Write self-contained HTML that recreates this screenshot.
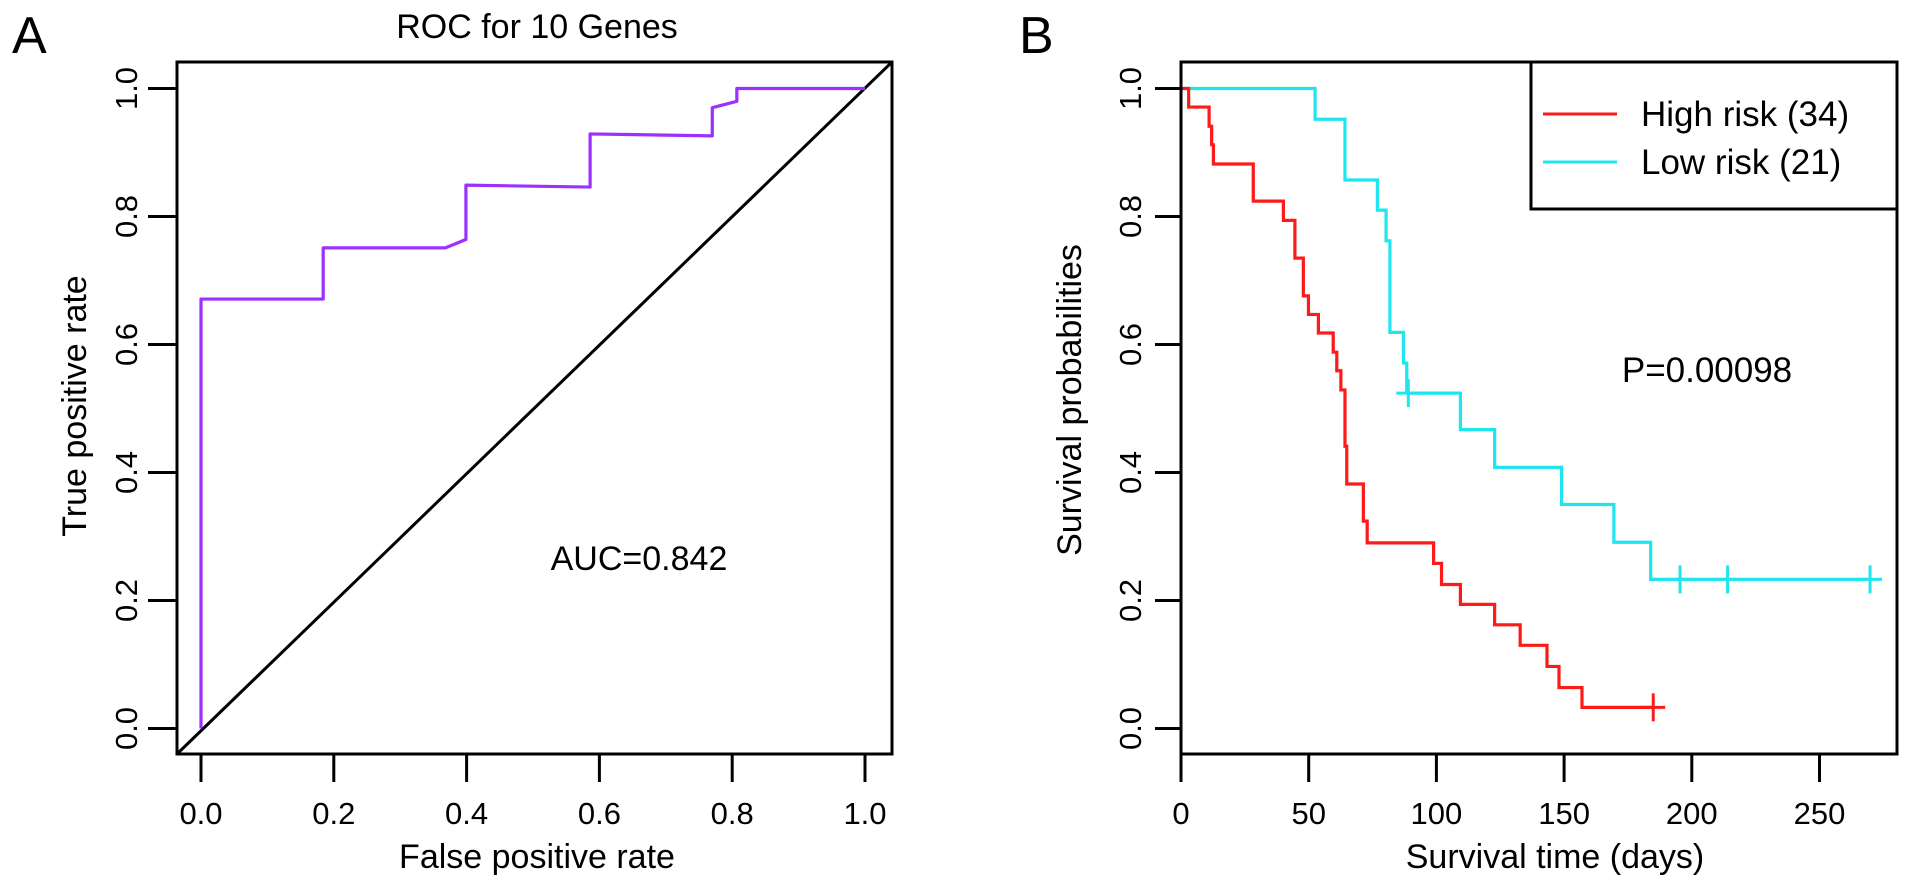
<!DOCTYPE html>
<html><head><meta charset="utf-8"><style>
html,body{margin:0;padding:0;background:#fff;}
svg{display:block;font-family:"Liberation Sans",Arial,sans-serif;}
</style></head><body>
<svg id="fig" width="1913" height="884" viewBox="0 0 1913 884" xmlns="http://www.w3.org/2000/svg">
<g id="pa"></g>
<g id="pb"></g>
</svg>
<script>
// ROC data
const rocFpr = [0,0,0.184,0.184,0.368,0.399,0.399,0.586,0.586,0.770,0.770,0.807,0.807,1.0];
const rocTpr = [0,0.671,0.671,0.751,0.751,0.764,0.849,0.846,0.929,0.926,0.970,0.980,1.0,1.0];
const rocTicks = [0,0.2,0.4,0.6,0.8,1.0];
const rocTickLabels = ["0.0","0.2","0.4","0.6","0.8","1.0"];
// KM data
const highTimes = [0,3,11,12,12.7,28.3,40.1,44.6,47.9,49.9,53.8,59.6,61.0,62.6,64.2,64.9,71.4,72.9,98.9,102,109.4,122.8,132.8,143.3,148,157,184.9];
const highSurv  = [1,0.971,0.941,0.912,0.882,0.824,0.794,0.735,0.676,0.647,0.618,0.588,0.559,0.529,0.441,0.382,0.324,0.290,0.258,0.225,0.194,0.162,0.130,0.097,0.064,0.033,0.033];
const highCensor = [184.9];
const lowTimes = [0,52.5,64.2,76.9,80.3,81.8,87.1,88.4,109.4,122.8,149,169.5,183.9,269.8];
const lowSurv  = [1,0.952,0.857,0.810,0.762,0.619,0.571,0.524,0.467,0.408,0.350,0.291,0.233,0.233];
const lowCensor = [89,195.4,214,269.8];
const lowCensorSurv = [0.524,0.233,0.233,0.233];
const kmXTicks = [0,50,100,150,200,250];
const kmYTicks = [0,0.2,0.4,0.6,0.8,1.0];

const NS="http://www.w3.org/2000/svg";
function mk(parent,tag,attrs,text){const e=document.createElementNS(NS,tag);for(const k in attrs)e.setAttribute(k,attrs[k]);if(text!==undefined)e.textContent=text;parent.appendChild(e);return e;}
const TF=31, LF=34;

// ---- Panel A
const pa=document.getElementById('pa');
const ax=v=>201+v*664, ay=v=>728.5-v*640;
let e;
e=mk(pa,'text',{x:12,y:53,'font-size':52},'A');


e=mk(pa,'text',{x:537,y:38,'font-size':LF,'text-anchor':'middle'},'ROC for 10 Genes');


e=mk(pa,'line',{x1:177,y1:754,x2:892,y2:62,stroke:'#000','stroke-width':3});


let d='';rocFpr.forEach((f,i)=>{d+=(i?'L':'M')+ax(f)+','+ay(rocTpr[i]);});
e=mk(pa,'path',{d:d,fill:'none',stroke:'#9b30ff','stroke-width':3.2,'stroke-linejoin':'round'});


e=mk(pa,'rect',{x:177,y:62,width:715,height:692,fill:'none',stroke:'#000','stroke-width':3});


rocTicks.forEach((t,i)=>{
  e=mk(pa,'line',{x1:ax(t),y1:754,x2:ax(t),y2:782,stroke:'#000','stroke-width':3});
  
  
  e=mk(pa,'text',{x:ax(t),y:824,'font-size':TF,'text-anchor':'middle'},rocTickLabels[i]);
  
  
  e=mk(pa,'line',{x1:148,y1:ay(t),x2:177,y2:ay(t),stroke:'#000','stroke-width':3});
  
  
  e=mk(pa,'text',{x:0,y:0,'font-size':TF,'text-anchor':'middle',transform:`translate(137,${ay(t)}) rotate(-90)`},rocTickLabels[i]);
  
  
});
e=mk(pa,'text',{x:537,y:868,'font-size':LF,'text-anchor':'middle'},'False positive rate');


e=mk(pa,'text',{x:0,y:0,'font-size':LF,'text-anchor':'middle',transform:'translate(86,406) rotate(-90)'},'True positive rate');


e=mk(pa,'text',{x:639,y:570,'font-size':LF,'text-anchor':'middle'},'AUC=0.842');



// ---- Panel B
const pb=document.getElementById('pb');
const bx=v=>1181+v*2.554, by=v=>728.5-v*640;
e=mk(pb,'text',{x:1019,y:53,'font-size':52},'B');


function km(times,surv,color,name){
  let p='M'+bx(times[0])+','+by(surv[0]);
  for(let i=1;i<times.length;i++){p+='H'+bx(times[i])+'V'+by(surv[i]);}
  const el=mk(pb,'path',{d:p,fill:'none',stroke:color,'stroke-width':3.2});
  
  
}
function cens(times,survs,color){
  times.forEach((t,i)=>{
    const g=mk(pb,'path',{d:`M${bx(t)-12},${by(survs[i])}h24M${bx(t)},${by(survs[i])-14}v28`,stroke:color,'stroke-width':3,fill:'none'});
    
    
  });
}
km(lowTimes,lowSurv,'#1fe6ee','low-risk-curve');
cens(lowCensor,lowCensorSurv,'#1fe6ee');
km(highTimes,highSurv,'#ff1a1a','high-risk-curve');
cens(highCensor,highCensor.map(()=>highSurv[highSurv.length-1]),'#ff1a1a');
e=mk(pb,'rect',{x:1181,y:62,width:716,height:692,fill:'none',stroke:'#000','stroke-width':3});


kmXTicks.forEach(t=>{
  e=mk(pb,'line',{x1:bx(t),y1:754,x2:bx(t),y2:782,stroke:'#000','stroke-width':3});
  
  
  e=mk(pb,'text',{x:bx(t),y:824,'font-size':TF,'text-anchor':'middle'},String(t));
  
  
});
kmYTicks.forEach(t=>{
  e=mk(pb,'line',{x1:1155,y1:by(t),x2:1181,y2:by(t),stroke:'#000','stroke-width':3});
  
  
  e=mk(pb,'text',{x:0,y:0,'font-size':TF,'text-anchor':'middle',transform:`translate(1141,${by(t)}) rotate(-90)`},t.toFixed(1));
  
  
});
e=mk(pb,'text',{x:1555,y:868,'font-size':LF,'text-anchor':'middle'},'Survival time (days)');


e=mk(pb,'text',{x:0,y:0,'font-size':LF,'text-anchor':'middle',transform:'translate(1081,400) rotate(-90)'},'Survival probabilities');


e=mk(pb,'text',{x:1707,y:382,'font-size':35,'text-anchor':'middle'},'P=0.00098');


// legend
const lg=mk(pb,'g',{});


e=mk(lg,'rect',{x:1531,y:62,width:366,height:147,fill:'#fff',stroke:'#000','stroke-width':3});


e=mk(lg,'line',{x1:1543,y1:114,x2:1617,y2:114,stroke:'#ff1a1a','stroke-width':3});


e=mk(lg,'text',{x:1641,y:126,'font-size':35},'High risk (34)');


e=mk(lg,'line',{x1:1543,y1:162,x2:1617,y2:162,stroke:'#1fe6ee','stroke-width':3});


e=mk(lg,'text',{x:1641,y:174,'font-size':35},'Low risk (21)');


</script>
</body></html>
